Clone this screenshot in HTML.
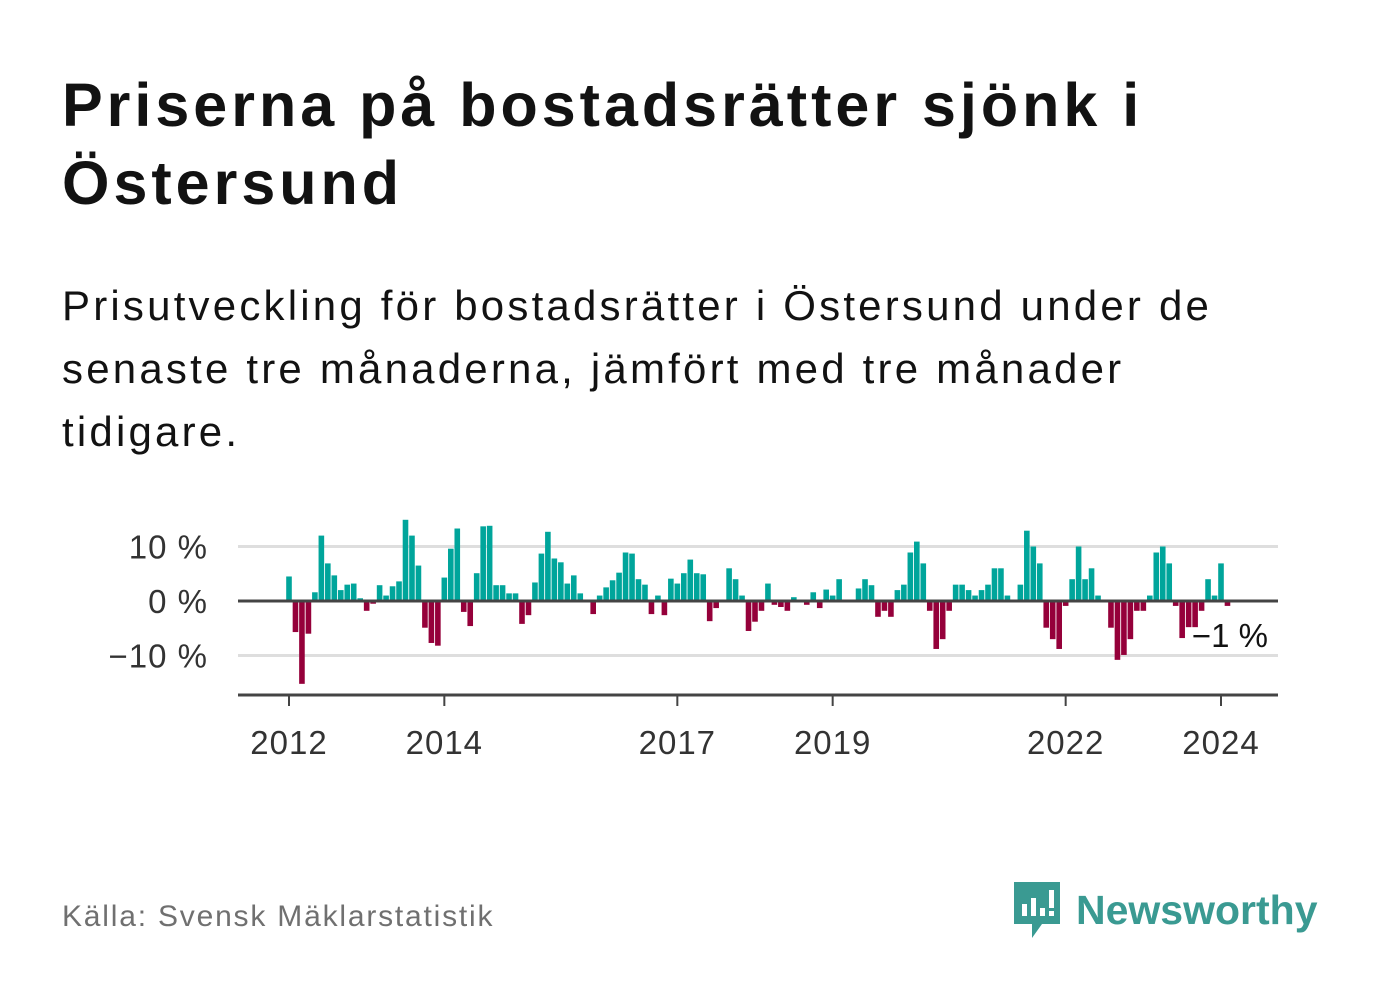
<!DOCTYPE html>
<html><head><meta charset="utf-8">
<style>
body{margin:0;width:1382px;height:999px;background:#fff;font-family:"Liberation Sans",sans-serif;overflow:hidden;position:relative}
h1{position:absolute;left:62px;top:66px;margin:0;font-size:61px;line-height:78px;font-weight:bold;color:#121212;width:1300px;letter-spacing:4px;white-space:nowrap}
.sub{position:absolute;left:62px;top:274px;margin:0;font-size:42px;line-height:63px;color:#121212;width:1300px;letter-spacing:3.2px;white-space:nowrap}
.src{position:absolute;left:62px;top:900px;font-size:30px;color:#707070;letter-spacing:1.8px}
.logo{position:absolute;left:1012px;top:880px;display:flex;align-items:center}
.logo span{font-size:41px;font-weight:bold;color:#3a9a92;margin-left:14px}
</style></head><body>
<h1>Priserna på bostadsrätter sjönk i<br>Östersund</h1>
<p class="sub">Prisutveckling för bostadsrätter i Östersund under de<br>senaste tre månaderna, jämfört med tre månader<br>tidigare.</p>
<svg id="chart" width="1382" height="999" style="position:absolute;left:0;top:0"></svg>
<div class="src">Källa: Svensk Mäklarstatistik</div>
<div class="logo">
<svg width="50" height="60" viewBox="0 0 50 60"><path d="M2 2h46v42H30l-10 14v-14H2z" fill="#3a9a92"/><rect x="10" y="24" width="5" height="12" fill="#fff"/><rect x="19" y="18" width="5" height="18" fill="#fff"/><rect x="28" y="28" width="5" height="8" fill="#fff"/><rect x="37" y="10" width="5" height="18" fill="#fff"/><rect x="37" y="31" width="5" height="5" fill="#fff"/></svg>
<span>Newsworthy</span></div>
<script>
const startYear = 2012;
const values = [4.5,-5.7,-15.2,-6.0,1.6,12.0,6.9,4.7,2.0,3.0,3.2,0.5,
-1.8,-0.5,2.9,1.0,2.7,3.6,14.9,12.0,6.5,-4.9,-7.7,-8.2,
4.3,9.6,13.3,-2.0,-4.6,5.1,13.7,13.8,2.9,2.9,1.4,1.4,
-4.2,-2.6,3.4,8.7,12.7,7.8,7.1,3.2,4.7,1.4,0,-2.4,
1.0,2.5,3.8,5.2,8.9,8.7,4.0,3.0,-2.4,1.0,-2.6,4.1,
3.2,5.1,7.6,5.1,4.9,-3.7,-1.3,0,6.0,4.0,1.0,-5.5,
-3.8,-1.8,3.2,-0.7,-1.1,-1.8,0.7,0,-0.7,1.6,-1.3,2.1,
1.0,4.0,0,0,2.3,4.0,2.9,-2.9,-1.8,-2.9,2.0,3.0,
8.9,10.9,6.9,-1.8,-8.8,-7.0,-1.8,3.0,3.0,2.0,1.0,2.0,
3.0,6.0,6.0,1.0,0,3.0,12.9,10.0,6.9,-4.9,-7.0,-8.8,
-0.9,4.0,10.0,4.0,6.0,1.0,0,-4.9,-10.8,-9.9,-7.0,-1.8,
-1.8,1.0,8.9,10.0,6.9,-0.9,-6.8,-4.8,-4.8,-1.8,4.0,1.0,
6.9,-0.9];
const yTicks = [10,0,-10];
const yTickLabels = ["10 %","0 %","\u221210 %"];
const xTickYears = [2012,2014,2017,2019,2022,2024];
const lastLabel = "\u22121 %";

const svg = document.getElementById('chart');
const NS='http://www.w3.org/2000/svg';
const y = v => 601 - v*5.45;
const x = m => 289 + m*(932/144);
function mk(tag, attrs, name){const e=document.createElementNS(NS,tag);for(const k in attrs)e.setAttribute(k,attrs[k]);


svg.appendChild(e);return e;}
yTicks.forEach((t,i)=>{
  if(t!==0) mk('line',{x1:238,x2:1278,y1:y(t),y2:y(t),stroke:'#dedede','stroke-width':3},'gridline');
  const tx=mk('text',{x:208,y:y(t)+12,'text-anchor':'end','font-size':33,fill:'#333','letter-spacing':1,'font-family':'Liberation Sans, sans-serif'},'y-tick-label');
  tx.textContent=yTickLabels[i];
});
values.forEach((v,i)=>{
  const top=Math.min(y(v),y(0)), h=Math.abs(y(v)-y(0));
  mk('rect',{x:x(i)-2.8,y:top,width:5.6,height:h,fill:v>=0?'#00a59b':'#95003a'},'bar');
});
mk('line',{x1:238,x2:1278,y1:y(0),y2:y(0),stroke:'#444','stroke-width':3},'zero-line');
mk('line',{x1:238,x2:1278,y1:695,y2:695,stroke:'#444','stroke-width':3},'x-axis-line');
xTickYears.forEach(yr=>{
  const px=x((yr-startYear)*12);
  mk('line',{x1:px,x2:px,y1:695,y2:706,stroke:'#444','stroke-width':2},'x-tick');
  const tx=mk('text',{x:px,y:754,'text-anchor':'middle','font-size':33,fill:'#333','letter-spacing':1,'font-family':'Liberation Sans, sans-serif'},'x-tick-label');
  tx.textContent=yr;
});
const lb=mk('text',{x:1268,y:647,'text-anchor':'end','font-size':33,fill:'#121212',stroke:'#fff','stroke-width':6,'paint-order':'stroke','font-family':'Liberation Sans, sans-serif'},'last-value-label');
lb.textContent=lastLabel;
</script>
</body></html>
